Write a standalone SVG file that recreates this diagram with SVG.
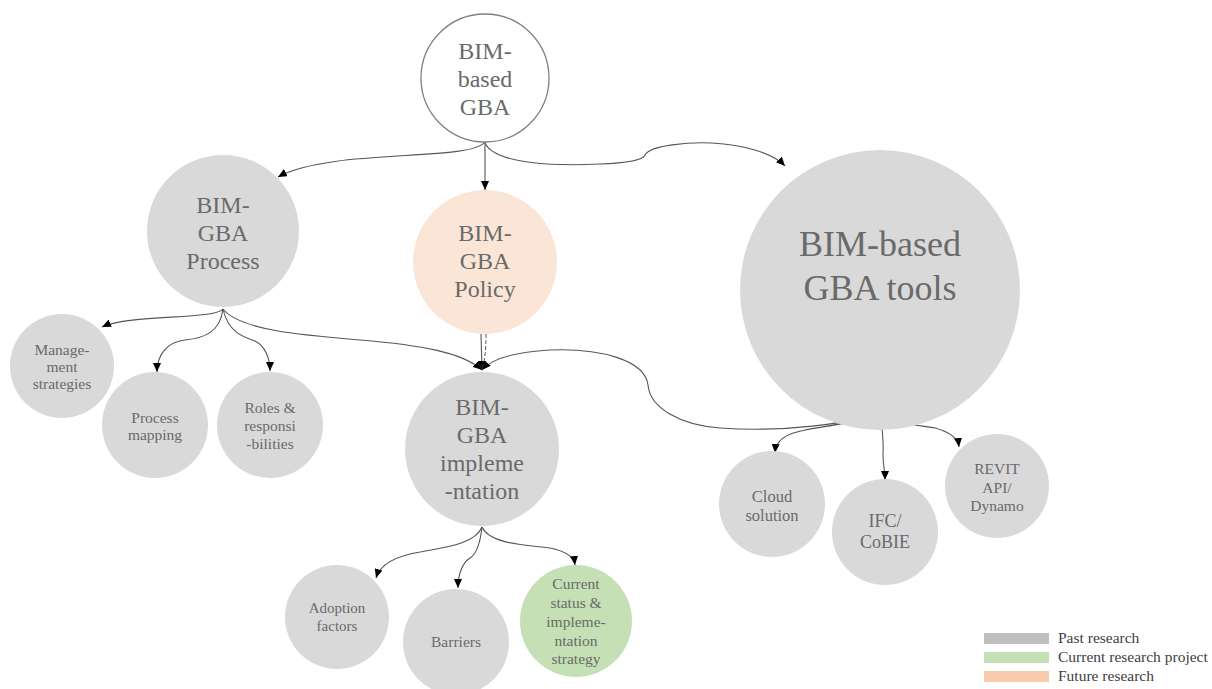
<svg xmlns="http://www.w3.org/2000/svg" width="1212" height="689" viewBox="0 0 1212 689">
  <style>
    .node { fill: #d9d9d9; }
    .root { fill: #ffffff; stroke: #808080; stroke-width: 1.3; }
    .future { fill: #fbe5d6; }
    .current { fill: #c5e0b4; }
    .lbl { font-family: "Liberation Serif", "Times New Roman", serif; fill: #6a6a6a; text-anchor: middle; }
    .big { font-size: 24px; }
    .huge { font-size: 36px; }
    .small { font-size: 15.5px; }
    .edge { fill: none; stroke: #555555; stroke-width: 1.1; marker-end: url(#arrow); }
    .dash { fill: none; stroke: #555555; stroke-width: 1; stroke-dasharray: 4 2; }
    .legend { font-family: "Liberation Serif", "Times New Roman", serif; font-size: 15.5px; fill: #404040; }
  </style>
  <defs>
    <marker id="arrow" viewBox="0 0 9 8" refX="9" refY="4" markerWidth="9" markerHeight="8" markerUnits="userSpaceOnUse" orient="auto">
      <path d="M0,0 L9,4 L0,8 z" fill="#000000"/>
    </marker>
  </defs>

  <rect width="1212" height="689" fill="#ffffff"/>

  <!-- connectors -->
  <g id="connectors">
    <!-- root to its three children -->
    <path class="edge" d="M485,142 C470,162 330,148 278,177"/>
    <path class="edge" d="M485,142 L485,190"/>
    <path class="edge" d="M485,143 C495,165 560,166 600,164 C630,163 643,160 645,155 C650,145 690,142 712,143 C742,145 772,152 785,166"/>
    <!-- process branch -->
    <path class="edge" d="M223,309 C215,320 130,314 102,327"/>
    <path class="edge" d="M223,309 C220,332 205,338 185,340 C167,342 157,355 157,372"/>
    <path class="edge" d="M223,309 C228,332 243,337 255,341 C265,346 270,358 270,371"/>
    <path class="edge" d="M223,309 C240,330 300,335 360,340 C420,345 462,352 482,370"/>
    <!-- policy to implementation: solid and dashed pair -->
    <path class="edge" d="M481,334 L482,370"/>
    <path class="dash" d="M486,334 C486,350 485,360 482,370"/>
    <!-- tools branch -->
    <path class="edge" d="M880,408 C860,425 780,432 720,428 C680,425 650,408 648,385 C645,360 600,348 550,350 C515,352 492,358 482,370"/>
    <path class="edge" d="M880,408 C870,422 830,425 805,430 C785,434 776,440 775,453"/>
    <path class="edge" d="M880,408 C882,430 884,440 883,455 C883,465 885,470 885,480"/>
    <path class="edge" d="M880,408 C890,425 920,425 935,428 C950,432 958,438 959,447"/>
    <!-- implementation branch -->
    <path class="edge" d="M482,527 C475,545 440,548 420,552 C395,556 380,565 376,578"/>
    <path class="edge" d="M482,527 C480,545 475,555 470,558 C462,563 458,575 458,588"/>
    <path class="edge" d="M482,527 C490,545 530,545 550,548 C565,551 574,556 575,565"/>
  </g>

  <g id="root">
    <circle class="root" cx="485" cy="78" r="64"/>
    <text class="lbl big"><tspan x="485" y="59">BIM-</tspan><tspan x="485" y="87">based</tspan><tspan x="485" y="115">GBA</tspan></text>
  </g>

  <g id="process">
    <circle class="node" cx="223" cy="231" r="76"/>
    <text class="lbl big"><tspan x="223" y="213">BIM-</tspan><tspan x="223" y="241">GBA</tspan><tspan x="223" y="269">Process</tspan></text>
  </g>

  <g id="policy">
    <circle class="future" cx="485" cy="262" r="72"/>
    <text class="lbl big"><tspan x="485" y="241">BIM-</tspan><tspan x="485" y="269">GBA</tspan><tspan x="485" y="297">Policy</tspan></text>
  </g>

  <g id="tools">
    <circle class="node" cx="880" cy="290" r="140"/>
    <text class="lbl huge"><tspan x="880" y="256">BIM-based</tspan><tspan x="880" y="300">GBA tools</tspan></text>
  </g>

  <g id="implementation">
    <circle class="node" cx="482" cy="449" r="77"/>
    <text class="lbl big"><tspan x="482" y="415">BIM-</tspan><tspan x="482" y="443">GBA</tspan><tspan x="482" y="471">impleme</tspan><tspan x="482" y="499">-ntation</tspan></text>
  </g>

  <g id="management">
    <circle class="node" cx="62" cy="366" r="52"/>
    <text class="lbl small"><tspan x="62" y="355">Manage-</tspan><tspan x="62" y="372">ment</tspan><tspan x="62" y="389">strategies</tspan></text>
  </g>

  <g id="process-mapping">
    <circle class="node" cx="155" cy="425" r="53"/>
    <text class="lbl small"><tspan x="155" y="423">Process</tspan><tspan x="155" y="440">mapping</tspan></text>
  </g>

  <g id="roles">
    <circle class="node" cx="270" cy="425" r="53"/>
    <text class="lbl small"><tspan x="270" y="413">Roles &amp;</tspan><tspan x="270" y="431">responsi</tspan><tspan x="270" y="449">-bilities</tspan></text>
  </g>

  <g id="cloud">
    <circle class="node" cx="772" cy="504" r="53"/>
    <text class="lbl" style="font-size:16.5px"><tspan x="772" y="502">Cloud</tspan><tspan x="772" y="521">solution</tspan></text>
  </g>

  <g id="ifc">
    <circle class="node" cx="885" cy="532" r="53"/>
    <text class="lbl" style="font-size:18px"><tspan x="885" y="527">IFC/</tspan><tspan x="885" y="548">CoBIE</tspan></text>
  </g>

  <g id="revit">
    <circle class="node" cx="997" cy="486" r="52"/>
    <text class="lbl small"><tspan x="997" y="474">REVIT</tspan><tspan x="997" y="493">API/</tspan><tspan x="997" y="511">Dynamo</tspan></text>
  </g>

  <g id="adoption">
    <circle class="node" cx="337" cy="617" r="52"/>
    <text class="lbl" style="font-size:15px"><tspan x="337" y="613">Adoption</tspan><tspan x="337" y="631">factors</tspan></text>
  </g>

  <g id="barriers">
    <circle class="node" cx="456" cy="642" r="53"/>
    <text class="lbl small"><tspan x="456" y="647">Barriers</tspan></text>
  </g>

  <g id="current-status">
    <circle class="current" cx="576" cy="621" r="56"/>
    <text class="lbl small"><tspan x="576" y="589">Current</tspan><tspan x="576" y="608">status &amp;</tspan><tspan x="576" y="627">impleme-</tspan><tspan x="576" y="646">ntation</tspan><tspan x="576" y="664">strategy</tspan></text>
  </g>

  <g id="legend">
    <rect x="984" y="633" width="65" height="11" fill="#bfbfbf"/>
    <rect x="984" y="652" width="65" height="11" fill="#c5e0b4"/>
    <rect x="984" y="671" width="65" height="11" fill="#f8cbad"/>
    <text class="legend" x="1058" y="643">Past research</text>
    <text class="legend" x="1058" y="662">Current research project</text>
    <text class="legend" x="1058" y="681">Future research</text>
  </g>
</svg>
